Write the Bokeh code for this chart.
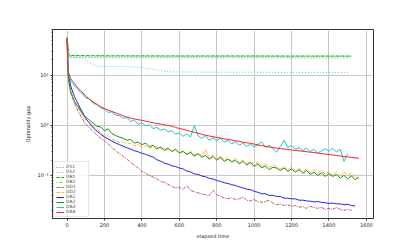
from bokeh.plotting import figure
from bokeh.models import Range1d, FixedTicker, CustomJSTickFormatter
from bokeh.embed import file_html
from bokeh.resources import INLINE

# ---------------- data ----------------
T = [0, 5, 10, 15, 20, 30, 40, 50, 60, 70, 80, 90, 100] + list(range(120, 1561, 20))

T_FLAT = [0, 10, 200, 400, 600, 800, 1000, 1200, 1400, 1520]
DS1 = [55, 22.5, 22.2, 22.1, 22.1, 22.0, 22.0, 22.0, 21.9, 21.9]
DB1 = [55, 24.5, 24.2, 24.1, 24.0, 24.0, 24.0, 23.9, 23.9, 23.9]
DB2 = [55, 24.2, 24.0, 23.9, 23.9, 23.8, 23.8, 23.8, 23.8, 23.8]

T_DS2 = [0, 10, 50, 80, 100, 130, 165, 250, 320, 410, 500, 560, 650, 820, 1000, 1200, 1500]
DS2 = [55, 22.8, 22.4, 22.0, 19.5, 16.5, 14.9, 14.8, 14.7, 13.9, 12.3, 11.6, 11.5, 11.4, 11.4, 11.3, 11.3]

DA4 = [55, 12, 10.5, 9.3, 8.4, 7.5, 6.8, 6.0, 5.4, 5.0, 4.6, 4.2, 3.8,
       3.3, 2.9, 2.6, 2.35, 2.15, 2.0, 1.88, 1.76, 1.65, 1.55, 1.45, 1.38,
       1.33, 1.29, 1.25, 1.2, 1.16, 1.12, 1.08, 1.05, 1.02, 0.99, 0.96, 0.9,
       0.86, 0.83, 0.79, 0.75, 0.72, 0.69, 0.66, 0.63, 0.61, 0.59, 0.57, 0.555,
       0.535, 0.52, 0.505, 0.49, 0.475, 0.46, 0.447, 0.435, 0.42, 0.405, 0.392,
       0.38, 0.366, 0.357, 0.35, 0.342, 0.335, 0.328, 0.32, 0.314, 0.308, 0.302,
       0.296, 0.29, 0.284, 0.278, 0.272, 0.266, 0.26, 0.255, 0.25, 0.244, 0.238,
       0.233, 0.228, 0.223, 0.219]

DA3 = [55, 14, 9.8, 8.4, 7.6, 6.8, 6.0, 5.6, 5.1, 4.5, 4.4, 3.9, 3.5,
       3.3, 2.7, 2.6, 2.2, 2.1, 1.8, 1.85, 1.6, 1.55, 1.38, 1.42, 1.2,
       1.25, 1.05, 1.12, 0.98, 1.02, 0.86, 0.9, 0.8, 0.84, 0.74, 0.78, 0.66,
       0.7, 0.6, 0.68, 0.58, 0.98, 0.62, 0.55, 0.62, 0.5, 0.56, 0.49, 0.55,
       0.46, 0.5, 0.42, 0.47, 0.4, 0.44, 0.38, 0.42, 0.37, 0.41, 0.47, 0.36,
       0.4, 0.34, 0.29, 0.38, 0.5, 0.36, 0.4, 0.33, 0.36, 0.31, 0.35, 0.3,
       0.33, 0.28, 0.31, 0.34, 0.3, 0.35, 0.29, 0.33, 0.19, 0.27]

DA2 = [55, 11, 7.5, 5.6, 4.5, 3.7, 3.0, 2.6, 2.3, 2.0, 1.75, 1.55, 1.45,
       1.25, 1.1, 0.95, 0.92, 0.78, 0.85, 0.68, 0.62, 0.58, 0.55, 0.5, 0.52,
       0.44, 0.46, 0.41, 0.44, 0.37, 0.4, 0.34, 0.37, 0.32, 0.35, 0.3, 0.33,
       0.28, 0.3, 0.26, 0.29, 0.24, 0.27, 0.23, 0.25, 0.21, 0.24, 0.2, 0.23,
       0.19, 0.21, 0.185, 0.2, 0.17, 0.19, 0.16, 0.18, 0.15, 0.17, 0.14, 0.155,
       0.13, 0.145, 0.14, 0.125, 0.14, 0.12, 0.135, 0.115, 0.13, 0.11, 0.125, 0.105,
       0.115, 0.1, 0.112, 0.095, 0.108, 0.095, 0.105, 0.088, 0.1, 0.085, 0.098, 0.082,
       0.093]

DD2 = [55, 10, 7.0, 5.3, 4.3, 3.5, 2.9, 2.5, 2.2, 1.9, 1.65, 1.45, 1.3,
       1.1, 0.95, 0.82, 0.7, 0.6, 0.62, 0.52, 0.5, 0.45, 0.47, 0.42, 0.44,
       0.39, 0.41, 0.36, 0.39, 0.35, 0.37, 0.33, 0.35, 0.31, 0.34, 0.3, 0.32,
       0.28, 0.31, 0.27, 0.3, 0.25, 0.28, 0.24, 0.33, 0.22, 0.25, 0.21, 0.24,
       0.2, 0.23, 0.19, 0.22, 0.175, 0.2, 0.17, 0.19, 0.165, 0.185, 0.15, 0.17,
       0.145, 0.16, 0.15, 0.135, 0.15, 0.13, 0.145, 0.125, 0.14, 0.12, 0.135, 0.115,
       0.13, 0.11, 0.125, 0.105, 0.12, 0.1, 0.12, 0.1, 0.115, 0.1, 0.112, 0.095,
       0.083]

DA1 = [55, 13, 9.0, 7.2, 6.0, 4.6, 3.7, 3.1, 2.6, 2.2, 1.9, 1.6, 1.35,
       1.1, 0.88, 0.76, 0.66, 0.58, 0.53, 0.48, 0.44, 0.41, 0.38, 0.355, 0.335,
       0.31, 0.295, 0.275, 0.262, 0.245, 0.232, 0.205, 0.192, 0.175, 0.168, 0.155, 0.15,
       0.14, 0.134, 0.122, 0.117, 0.107, 0.104, 0.097, 0.094, 0.087, 0.085, 0.079, 0.076,
       0.071, 0.069, 0.065, 0.063, 0.059, 0.056, 0.053, 0.052, 0.048, 0.046, 0.043, 0.043,
       0.04, 0.04, 0.038, 0.038, 0.035, 0.035, 0.034, 0.034, 0.032, 0.032, 0.031, 0.0305,
       0.0295, 0.03, 0.029, 0.0285, 0.0275, 0.028, 0.027, 0.027, 0.026, 0.0265, 0.025, 0.0245]

DD1 = [55, 10, 7.0, 5.5, 4.5, 3.4, 2.7, 2.25, 1.9, 1.6, 1.4, 1.2, 1.05,
       0.88, 0.75, 0.63, 0.55, 0.48, 0.42, 0.36, 0.31, 0.27, 0.24, 0.21, 0.18,
       0.16, 0.14, 0.12, 0.11, 0.1, 0.092, 0.085, 0.075, 0.073, 0.066, 0.061, 0.056,
       0.058, 0.052, 0.063, 0.05, 0.047, 0.045, 0.043, 0.041, 0.04, 0.05, 0.041, 0.038,
       0.035, 0.034, 0.036, 0.033, 0.034, 0.037, 0.032, 0.031, 0.033, 0.03, 0.029, 0.03,
       0.032, 0.028, 0.026, 0.027, 0.025, 0.026, 0.024, 0.025, 0.023, 0.024, 0.022, 0.024,
       0.023, 0.022, 0.023, 0.021, 0.022, 0.021, 0.023, 0.021, 0.02, 0.021, 0.02]

XTICKS = [0, 200, 400, 600, 800, 1000, 1200, 1400, 1600]
YTICKS = [0.1, 1, 10]
YMINOR = [0.02, 0.03, 0.04, 0.05, 0.06, 0.07, 0.08, 0.09,
          0.2, 0.3, 0.4, 0.5, 0.6, 0.7, 0.8, 0.9,
          2, 3, 4, 5, 6, 7, 8, 9, 20, 30, 40, 50, 60, 70, 80]

FONT = "DejaVu Sans"

p = figure(width=407, height=241, y_axis_type="log",
           x_range=Range1d(-78, 1638), y_range=Range1d(0.0138, 81),
           output_backend="svg", toolbar_location=None,
           min_border_left=52, min_border_right=34,
           min_border_top=29, min_border_bottom=21)

p.background_fill_color = "white"
p.border_fill_color = "white"
p.outline_line_color = "#333333"
p.outline_line_width = 1

# series
p.line(T_FLAT, DS1, color="#808080", line_width=1, line_dash="1 2", legend_label="DS1")
p.line(T_DS2, DS2, color="#48d8d0", line_width=1, line_dash="1 2", legend_label="DS2")
p.line(T_FLAT, DB1, color="#119911", line_width=1, line_dash="3 2", legend_label="DB1")
p.line(T_FLAT, DB2, color="#44ee44", line_width=1, line_dash="3 2", line_dash_offset=2, legend_label="DB2")
p.line(T[:len(DD1)], DD1, color="#a83a3a", line_width=1, line_dash="3 1 1 1", line_alpha=0.85, legend_label="DD1")
p.line(T[:len(DD2)], DD2, color="#ffaa22", line_width=1, line_dash="3 1 1 1", legend_label="DD2")
p.line(T[:len(DA1)], DA1, color="#2222ff", line_width=1, legend_label="DA1")
p.line(T[:len(DA2)], DA2, color="#1e901e", line_width=1, legend_label="DA2")
p.line(T[:len(DA3)], DA3, color="#22c4c4", line_width=1, legend_label="DA3")
p.line(T[:len(DA4)], DA4, color="#ff2020", line_width=1, legend_label="DA4")

# axes
p.xaxis.ticker = FixedTicker(ticks=XTICKS)
p.yaxis.ticker = FixedTicker(ticks=YTICKS, minor_ticks=YMINOR)
p.yaxis.formatter = CustomJSTickFormatter(code="""
const e = Math.round(Math.log10(tick));
const m = {"-":"\u207b","0":"\u2070","1":"\u00b9","2":"\u00b2","3":"\u00b3"};
return "10" + String(e).split("").map(c => m[c]).join("");
""")

for ax in (p.xaxis[0], p.yaxis[0]):
    ax.major_label_text_font = FONT
    ax.major_label_text_font_size = "5px"
    ax.major_label_text_color = "#222222"
    ax.axis_label_text_font = FONT
    ax.axis_label_text_font_size = "5px"
    ax.axis_label_text_font_style = "normal"
    ax.axis_label_text_color = "#222222"
    ax.axis_line_color = "#333333"
    ax.major_tick_line_color = "#333333"
    ax.minor_tick_line_color = "#333333"
    ax.major_tick_out = 2
    ax.major_tick_in = 0
    ax.major_label_standoff = 2
    ax.axis_label_standoff = 3

p.xaxis.minor_tick_out = 0
p.yaxis.minor_tick_out = 1
p.yaxis.minor_tick_in = 0
p.xaxis.axis_label = "elapsed time"
p.yaxis.axis_label = "Optimality gap"

p.xgrid.grid_line_color = "#c8c8c8"
p.ygrid.grid_line_color = "#c8c8c8"
p.xgrid.grid_line_width = 1
p.ygrid.grid_line_width = 1

# legend
lg = p.legend[0]
lg.location = "bottom_left"
lg.margin = 1
lg.padding = 2
lg.spacing = 0
lg.label_text_font = FONT
lg.label_text_font_size = "4.5px"
lg.label_height = 4
lg.glyph_height = 4
lg.glyph_width = 8
lg.label_standoff = 2
lg.border_line_color = "#cccccc"
lg.border_line_width = 1
lg.background_fill_alpha = 0.85

open("out.html", "w", encoding="utf-8").write(file_html(p, INLINE))
